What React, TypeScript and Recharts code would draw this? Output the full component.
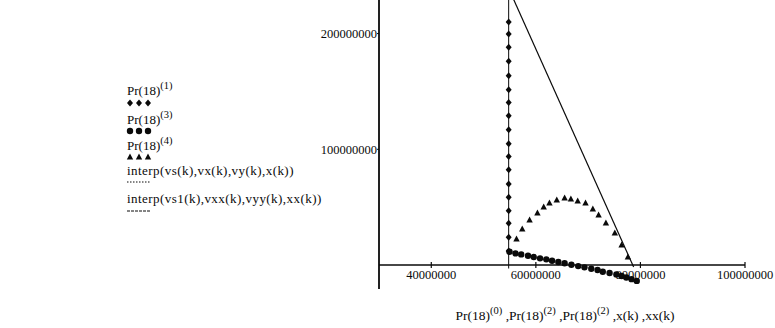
import React from 'react';
import { ScatterChart, Scatter, XAxis, YAxis, ReferenceLine, Legend } from 'recharts';

// ---------- data ----------
const xTicks = [40000000, 60000000, 80000000, 100000000];
const yTicks = [100000000, 200000000];

// Pr(18)^(1): vertical column of small diamonds
const pr1X = [54800000, 54800000, 54800000, 54800000, 54800000, 54800000, 54800000, 54800000, 54800000,
  54800000, 54800000, 54800000, 54800000, 54800000, 54800000, 54800000, 54800000, 54800000];
const pr1Y = [210000000, 199700000, 188100000, 176000000, 163600000, 151500000, 140500000, 129000000, 116900000,
  104800000, 93800000, 82300000, 70100000, 58600000, 47000000, 36100000, 24000000, 12100000];

// Pr(18)^(3): sloping row of filled circles
const pr3X = [54960000, 56100000, 57200000, 58500000, 59600000, 60800000, 62000000, 63100000, 64300000, 65500000, 66800000,
  68100000, 69300000, 70600000, 71800000, 72800000, 74100000, 75400000, 76400000, 77300000, 78300000, 79300000];
const pr3Y = [11500000, 10100000, 9200000, 8000000, 6900000, 5800000, 4900000, 3700000, 2600000, 1500000, 300000,
  -900000, -2000000, -3200000, -4300000, -5800000, -6900000, -8100000, -9500000, -10700000, -12200000, -13700000];

// Pr(18)^(4): arch of triangles
const pr4X = [56300000, 57400000, 58800000, 60300000, 61500000, 62600000, 64000000, 65500000, 66700000,
  68000000, 69500000, 70900000, 72000000, 73400000, 75100000, 76400000, 77600000];
const pr4Y = [22500000, 31200000, 39000000, 45000000, 50200000, 53700000, 56300000, 58000000, 57100000,
  55400000, 53700000, 48500000, 43300000, 36400000, 27700000, 17300000, 6900000];

// interp(vs(k),vx(k),vy(k),x(k)) : sloping solid line
const interp1X = [55200000, 78700000];
const interp1Y = [235000000, -1700000];

// interp(vs1(k),vxx(k),vyy(k),xx(k)) : vertical line
const interp2X = [54800000, 54800000];
const interp2Y = [-3000000, 240000000];

const zip = (xs: number[], ys: number[]) => xs.map((x, i) => ({ x, y: ys[i] }));
const pr1 = zip(pr1X, pr1Y);
const pr3 = zip(pr3X, pr3Y);
const pr4 = zip(pr4X, pr4Y);
const interp1 = zip(interp1X, interp1Y);
const interp2 = zip(interp2X, interp2Y);

// ---------- layout ----------
const W = 775;
const H = 328;
const X_MIN = 30000000;
const X_MAX = 100000000;
const Y_MIN = -20700000;
const Y_MAX = 229000000;
const MARGIN = { top: 0, right: 30, bottom: 0, left: 300 };
const Y_AXIS_W = 79;
const X_AXIS_H = 39;
const PLOT_H = H - MARGIN.top - MARGIN.bottom - X_AXIS_H;
const ZERO_OFFSET = (PLOT_H * (0 - Y_MIN)) / (Y_MAX - Y_MIN);

const INK = '#0a0a0a';
const TXT = { fontFamily: "'Liberation Serif', 'Times New Roman', serif" };

// ---------- shapes ----------
const Diamond = (p: any) => (
  <polygon
    points={`${p.cx},${p.cy - 3.5} ${p.cx + 3},${p.cy} ${p.cx},${p.cy + 3.5} ${p.cx - 3},${p.cy}`}
    fill={INK}
  />
);
const Dot = (p: any) => <circle cx={p.cx} cy={p.cy} r={3.2} fill={INK} />;
const Tri = (p: any) => (
  <polygon
    points={`${p.cx},${p.cy - 3.5} ${p.cx + 3.2},${p.cy + 2.5} ${p.cx - 3.2},${p.cy + 2.5}`}
    fill={INK}
  />
);
const NoShape = () => <g />;

const XTick = (props: any) => {
  const { x, y, payload } = props;
  const zy = y - ZERO_OFFSET;
  return (
    <g>
      <line x1={x} x2={x} y1={zy - 3} y2={zy + 3} stroke={INK} strokeWidth={1.2} />
      <text x={x} y={zy + 14} textAnchor="middle" style={TXT} fontSize={12.5} fill={INK}>
        {String(payload.value)}
      </text>
    </g>
  );
};

const YTick = (props: any) => {
  const { x, y, payload } = props;
  return (
    <text x={x} y={y} dy="0.35em" textAnchor="end" style={TXT} fontSize={12.5} fill={INK}>
      {String(payload.value)}
    </text>
  );
};

const XTitle = () => (
  <text x={565} y={320} textAnchor="middle" style={TXT} fontSize={13.5} fill={INK}>
    <tspan>Pr(18)</tspan>
    <tspan dy={-6} fontSize={10.5}>(0)</tspan>
    <tspan dy={6}> ,Pr(18)</tspan>
    <tspan dy={-6} fontSize={10.5}>(2)</tspan>
    <tspan dy={6}> ,Pr(18)</tspan>
    <tspan dy={-6} fontSize={10.5}>(2)</tspan>
    <tspan dy={6}> ,x(k) ,xx(k)</tspan>
  </text>
);

const LegendLabel = ({ y, base, sup, ls }: { y: number; base: string; sup?: string; ls?: number }) => (
  <text x={127} y={y} style={{ ...TXT, letterSpacing: ls ?? 0 }} fontSize={13} fill={INK}>
    <tspan>{base}</tspan>
    {sup ? (
      <tspan dy={-6} fontSize={10.5}>
        {sup}
      </tspan>
    ) : null}
  </text>
);

const MARK_X = [130, 139, 148];

const LegendBox = () => (
  <svg width={340} height={H} style={{ display: 'block' }}>
    <LegendLabel y={95} base="Pr(18)" sup="(1)" />
    {MARK_X.map((cx) => (
      <Diamond key={cx} cx={cx} cy={103} />
    ))}
    <LegendLabel y={124} base="Pr(18)" sup="(3)" />
    {MARK_X.map((cx) => (
      <Dot key={cx} cx={cx} cy={131} />
    ))}
    <LegendLabel y={150} base="Pr(18)" sup="(4)" />
    {MARK_X.map((cx) => (
      <Tri key={cx} cx={cx} cy={157} />
    ))}
    <LegendLabel y={175} base="interp(vs(k),vx(k),vy(k),x(k))" ls={0.45} />
    <line x1={127} x2={151} y1={182} y2={182} stroke={INK} strokeWidth={1} strokeDasharray="1.5 1.5" />
    <LegendLabel y={203} base="interp(vs1(k),vxx(k),vyy(k),xx(k))" ls={0.45} />
    <line x1={127} x2={151} y1={211} y2={211} stroke={INK} strokeWidth={1} strokeDasharray="3 1" />
  </svg>
);

export default function App() {
  return (
    <div style={{ position: 'absolute', left: 0, top: 0, width: W, height: H, background: '#fff' }}>
      <ScatterChart width={W} height={H} margin={MARGIN}>
        <XAxis
          type="number"
          dataKey="x"
          domain={[X_MIN, X_MAX]}
          ticks={xTicks}
          axisLine={false}
          tickLine={false}
          tickSize={0}
          tickMargin={0}
          height={X_AXIS_H}
          tick={<XTick />}
          interval={0}
          allowDataOverflow
          label={{ content: () => <XTitle /> }}
        />
        <YAxis
          type="number"
          dataKey="y"
          domain={[Y_MIN, Y_MAX]}
          ticks={yTicks}
          width={Y_AXIS_W}
          allowDataOverflow
          interval={0}
          axisLine={{ stroke: INK, strokeWidth: 1.8 }}
          tickLine={{ stroke: INK }}
          tickSize={2}
          tickMargin={0}
          tick={<YTick />}
        />
        <ReferenceLine y={0} stroke={INK} strokeWidth={1.6} ifOverflow="extendDomain" />
        <Legend
          layout="horizontal"
          verticalAlign="middle"
          align="center"
          wrapperStyle={{ position: 'absolute', left: 0, top: 0, width: 340, height: H }}
          content={() => <LegendBox />}
        />
        <Scatter
          name="interp2"
          data={interp2}
          line={{ stroke: INK, strokeWidth: 1 }}
          lineType="joint"
          shape={NoShape}
          isAnimationActive={false}
          legendType="none"
        />
        <Scatter
          name="interp1"
          data={interp1}
          line={{ stroke: INK, strokeWidth: 1.2 }}
          lineType="joint"
          shape={NoShape}
          isAnimationActive={false}
          legendType="none"
        />
        <Scatter name="Pr1" data={pr1} shape={Diamond} isAnimationActive={false} />
        <Scatter name="Pr3" data={pr3} shape={Dot} isAnimationActive={false} />
        <Scatter name="Pr4" data={pr4} shape={Tri} isAnimationActive={false} />
      </ScatterChart>
    </div>
  );
}
